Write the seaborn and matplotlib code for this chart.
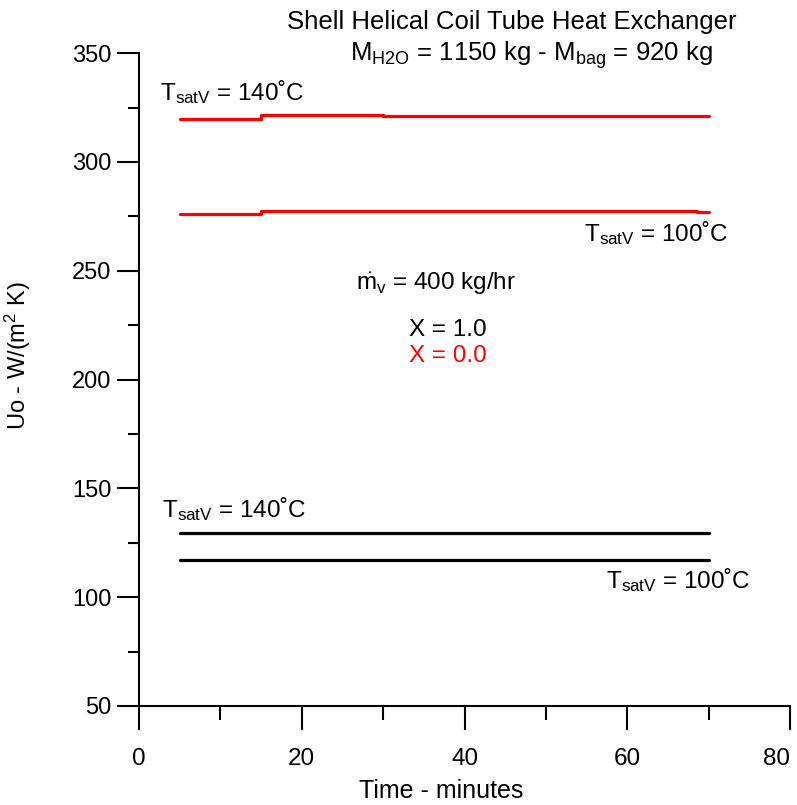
import pandas as pd
import matplotlib
matplotlib.use("Agg")
import matplotlib.pyplot as plt
from matplotlib.ticker import MultipleLocator
import seaborn as sns

# time (minutes) and Uo values, step curves
t_red_140 = [5, 15, 30, 70]
uo_red_140 = [319.8, 321.7, 321.3, 321.3]
t_red_100 = [5, 15, 68.6, 70]
uo_red_100 = [276.0, 277.6, 277.0, 277.0]
t_blk_140 = [5, 70]
uo_blk_140 = [129.3, 129.3]
t_blk_100 = [5, 70]
uo_blk_100 = [117.0, 117.0]

sns.set_style("ticks")
plt.rcParams["font.family"] = ["Liberation Sans", "DejaVu Sans"]
plt.rcParams["mathtext.fontset"] = "custom"
plt.rcParams["mathtext.rm"] = "Liberation Sans"
plt.rcParams["mathtext.it"] = "Liberation Sans:italic"
for k in ["text.color", "axes.labelcolor", "xtick.color", "ytick.color", "axes.edgecolor"]:
    plt.rcParams[k] = "black"

fig = plt.figure(figsize=(7.97, 8.05), dpi=100)
ax = fig.add_axes([0.1744, 0.123, 0.817, 0.811])

series = [
    (t_red_140, uo_red_140, "#ff0000"),
    (t_red_100, uo_red_100, "#ff0000"),
    (t_blk_140, uo_blk_140, "black"),
    (t_blk_100, uo_blk_100, "black"),
]
for t, uo, col in series:
    df = pd.DataFrame({"t": t, "uo": uo})
    sns.lineplot(data=df, x="t", y="uo", ax=ax, color=col, lw=2.3,
                 drawstyle="steps-post", estimator=None)

ax.set_xlim(0, 80)
ax.set_ylim(50, 350)
ax.xaxis.set_major_locator(MultipleLocator(20))
ax.xaxis.set_minor_locator(MultipleLocator(10))
ax.yaxis.set_major_locator(MultipleLocator(50))
ax.yaxis.set_minor_locator(MultipleLocator(25))
ax.tick_params(axis="y", which="major", direction="out", length=16, width=1.5,
               labelsize=17, pad=4)
ax.tick_params(axis="y", which="minor", direction="out", length=8, width=1.5)
ax.tick_params(axis="x", which="major", direction="out", length=17, width=1.5,
               labelsize=17.5, pad=13)
ax.tick_params(axis="x", which="minor", direction="out", length=10, width=1.5)
for s in ["top", "right"]:
    ax.spines[s].set_visible(False)
for s in ["left", "bottom"]:
    ax.spines[s].set_linewidth(1.5)

ax.set_xlabel("Time - minutes", fontsize=18)
ax.set_ylabel("Uo - W/(m$^{2}$ K)", fontsize=17)
ax.xaxis.set_label_coords(0.464, -0.112)
ax.yaxis.set_label_coords(-0.163, 0.536)

fs = 17.5
ax.text(0.6425, 0.973, "Shell Helical Coil Tube Heat Exchanger", transform=fig.transFigure,
        ha="center", va="center", fontsize=18.5)
ax.text(0.667, 0.932, r"M$_{\mathrm{H2O}}$ = 1150 kg - M$_{\mathrm{bag}}$ = 920 kg",
        transform=fig.transFigure, ha="center", va="center", fontsize=18.5)
ax.text(2.6, 332, r"T$_{\mathrm{satV}}$ = 140˚C", ha="left", va="center", fontsize=fs)
ax.text(54.7, 267.5, r"T$_{\mathrm{satV}}$ = 100˚C", ha="left", va="center", fontsize=fs)
ax.text(26.7, 244, r"$\dot{\mathrm{m}}_{\mathrm{v}}$ = 400 kg/hr", ha="left", va="center", fontsize=fs)
ax.text(33.2, 222.7, "X = 1.0", ha="left", va="center", fontsize=fs)
ax.text(33.2, 210.8, "X = 0.0", ha="left", va="center", fontsize=fs, color="#ff0000")
ax.text(2.8, 140.5, r"T$_{\mathrm{satV}}$ = 140˚C", ha="left", va="center", fontsize=fs)
ax.text(57.4, 108, r"T$_{\mathrm{satV}}$ = 100˚C", ha="left", va="center", fontsize=fs)

# last x tick label sits left of its tick so it stays inside the figure
fig.canvas.draw()
for tick in ax.xaxis.get_major_ticks():
    if abs(tick.get_loc() - 80) < 1e-6:
        tick.label1.set_horizontalalignment("right")
        tick.label1.set_x(80.4)

fig.savefig("out.png", dpi=100)
